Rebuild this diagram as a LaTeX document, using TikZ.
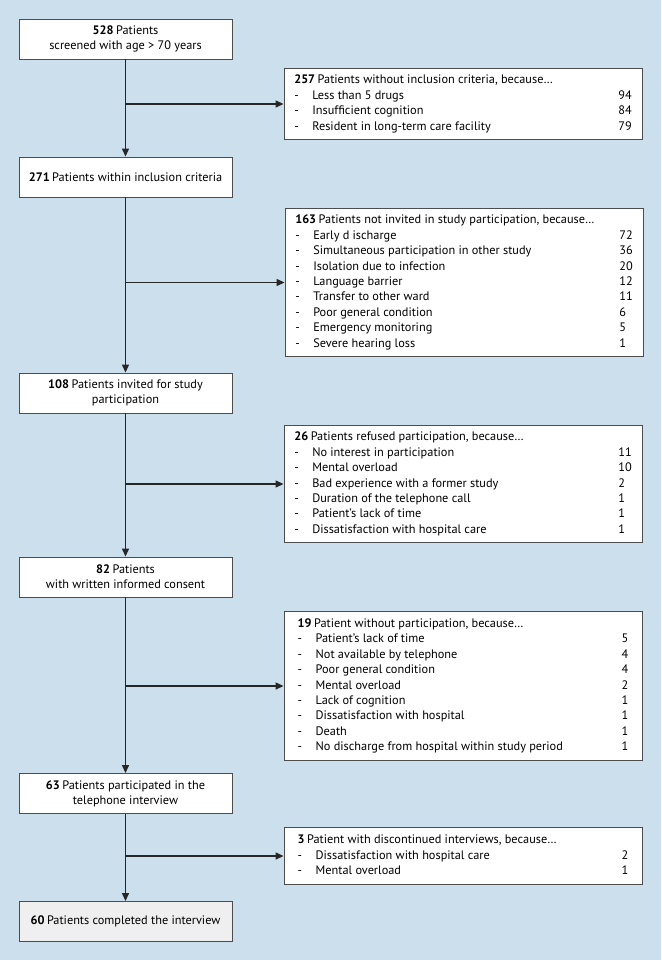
\documentclass[tikz,border=0pt]{standalone}
\usepackage{fontspec}
\setmainfont{PT Sans}
\usetikzlibrary{arrows.meta}
\definecolor{bg}{HTML}{CCDFEC}
\definecolor{bordc}{HTML}{4D4D4D}
\definecolor{lastfill}{HTML}{EFEFEF}
\newcommand{\boxfont}{\fontsize{12.3pt}{15.4pt}\selectfont}
\newcommand{\cnt}[1]{\textbf{#1}\hspace{2.5pt}}
\newenvironment{rlist}{\boxfont\begin{tabular}{@{}p{18pt}@{}p{306pt}@{}l@{}}}{\end{tabular}}
\newcommand{\rhead}[1]{\multicolumn{3}{@{}l@{}}{#1}\\}
\begin{document}
\begin{tikzpicture}[x=1pt,y=-1pt,
  lbox/.style={draw=bordc, fill=white, line width=0.9pt, minimum width=213pt,
    minimum height=40pt, inner sep=0pt, align=center,
    font=\fontsize{12.3pt}{15pt}\selectfont},
  rbox/.style={draw=bordc, fill=white, line width=0.9pt, minimum width=358pt,
    inner xsep=10pt, inner ysep=5pt},
  arr/.style={draw=black!85, line width=1.3pt, -{Triangle[length=8pt,width=7pt]}}]
\path[fill=bg] (0,0) rectangle (661,960);

% main column
\node[lbox] (n528) at (125.5,39) {\cnt{528}Patients\\screened with age > 70 years};
\node[lbox] (n271) at (125.5,177) {\cnt{271}Patients within inclusion criteria};
\node[lbox] (n108) at (125.5,393) {\cnt{108}Patients invited for study\\participation};
\node[lbox] (n82) at (125.5,577) {\cnt{82}Patients\\with written informed consent};
\node[lbox] (n63) at (125.5,793.5) {\cnt{63}Patients participated in the\\telephone interview};
\node[lbox, fill=lastfill] (n60) at (125.5,921.5) {\cnt{60}Patients completed the interview};

% side boxes
\node[rbox] (r257) at (463,104) {\begin{rlist}
\rhead{\cnt{257}Patients without inclusion criteria, because…}
-&Less than 5 drugs&94\\
-&Insufficient cognition&84\\
-&Resident in long-term care facility&79
\end{rlist}};

\node[rbox] (r163) at (464,282.5) {\begin{rlist}
\rhead{\cnt{163}Patients not invited in study participation, because…}
-&Early d ischarge&72\\
-&Simultaneous participation in other study&36\\
-&Isolation due to infection&20\\
-&Language barrier&12\\
-&Transfer to other ward&11\\
-&Poor general condition&6\\
-&Emergency monitoring&5\\
-&Severe hearing loss&1
\end{rlist}};

\node[rbox] (r26) at (463,484) {\begin{rlist}
\rhead{\cnt{26}Patients refused participation, because…}
-&No interest in participation&11\\
-&Mental overload&10\\
-&Bad experience with a former study&2\\
-&Duration of the telephone call&1\\
-&Patient's lack of time&1\\
-&Dissatisfaction with hospital care&1
\end{rlist}};

\node[rbox] (r19) at (463,686) {\begin{rlist}
\rhead{\cnt{19}Patient without participation, because…}
-&Patient's lack of time&5\\
-&Not available by telephone&4\\
-&Poor general condition&4\\
-&Mental overload&2\\
-&Lack of cognition&1\\
-&Dissatisfaction with hospital&1\\
-&Death&1\\
-&No discharge from hospital within study period&1
\end{rlist}};

\node[rbox] (r3) at (463,856) {\begin{rlist}
\rhead{\cnt{3}Patient with discontinued interviews, because…}
-&Dissatisfaction with hospital care&2\\
-&Mental overload&1
\end{rlist}};

% connectors
\draw[arr] (n528) -- (n271);
\draw[arr] (n271) -- (n108);
\draw[arr] (n108) -- (n82);
\draw[arr] (n82) -- (n63);
\draw[arr] (n63) -- (n60);
\draw[arr] (n528.south |- r257.west) -- (r257.west);
\draw[arr] (n271.south |- r163.west) -- (r163.west);
\draw[arr] (n108.south |- r26.west) -- (r26.west);
\draw[arr] (n82.south |- r19.west) -- (r19.west);
\draw[arr] (n63.south |- r3.west) -- (r3.west);
\end{tikzpicture}
\end{document}
